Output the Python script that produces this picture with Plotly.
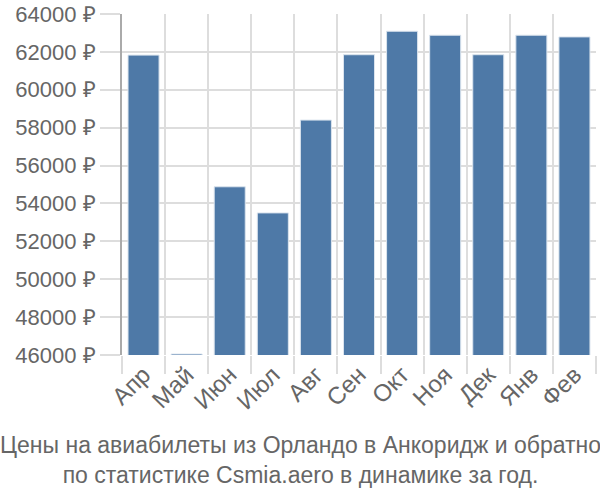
import plotly.graph_objects as go

months = ["Апр", "Май", "Июн", "Июл", "Авг", "Сен", "Окт", "Ноя", "Дек", "Янв", "Фев"]
prices = [61830, 46050, 54880, 53500, 58400, 61850, 63090, 62880, 61850, 62880, 62790]
y_ticks = list(range(46000, 64001, 2000))

fig = go.Figure(go.Bar(
    x=months, y=prices,
    marker=dict(color="#4e79a7", line=dict(color="#dbe4ee", width=1)),
    width=0.72,
))

font_family = "Liberation Sans, Arial, sans-serif"
fig.update_layout(
    width=600, height=500,
    margin=dict(l=122, r=4, t=14, b=145),
    plot_bgcolor="white", paper_bgcolor="white",
    showlegend=False,
    font=dict(family=font_family, size=22, color="#666666"),
    bargap=0.28,
)
fig.update_xaxes(
    type="category", range=[-0.5, 10.5],
    tickangle=-45, tickson="boundaries",
    ticks="outside", ticklen=18, tickcolor="#dddddd", tickwidth=2,
    showgrid=True, gridcolor="#dddddd", gridwidth=2,
    showline=False, automargin=False,
    tickfont=dict(size=24, color="#666666"),
)
fig.update_yaxes(
    range=[46000, 64000], tickvals=y_ticks,
    ticktext=[f"{v} ₽" for v in y_ticks],
    ticks="outside", ticklen=20, tickcolor="#dddddd", tickwidth=2,
    showgrid=True, gridcolor="#dddddd", gridwidth=2,
    showline=True, linecolor="#aaaaaa", linewidth=2,
    zeroline=False, automargin=False,
    tickfont=dict(size=22, color="#666666"),
)
fig.add_annotation(
    text="Цены на авиабилеты из Орландо в Анкоридж и обратно<br>по статистике Csmia.aero в динамике за год.",
    xref="paper", yref="paper", x=0.5, y=0, xanchor="center", yanchor="top",
    yshift=-75, xshift=-59, showarrow=False,
    font=dict(size=23, color="#666666", family=font_family),
    align="center",
)
fig.write_html("out.html")
